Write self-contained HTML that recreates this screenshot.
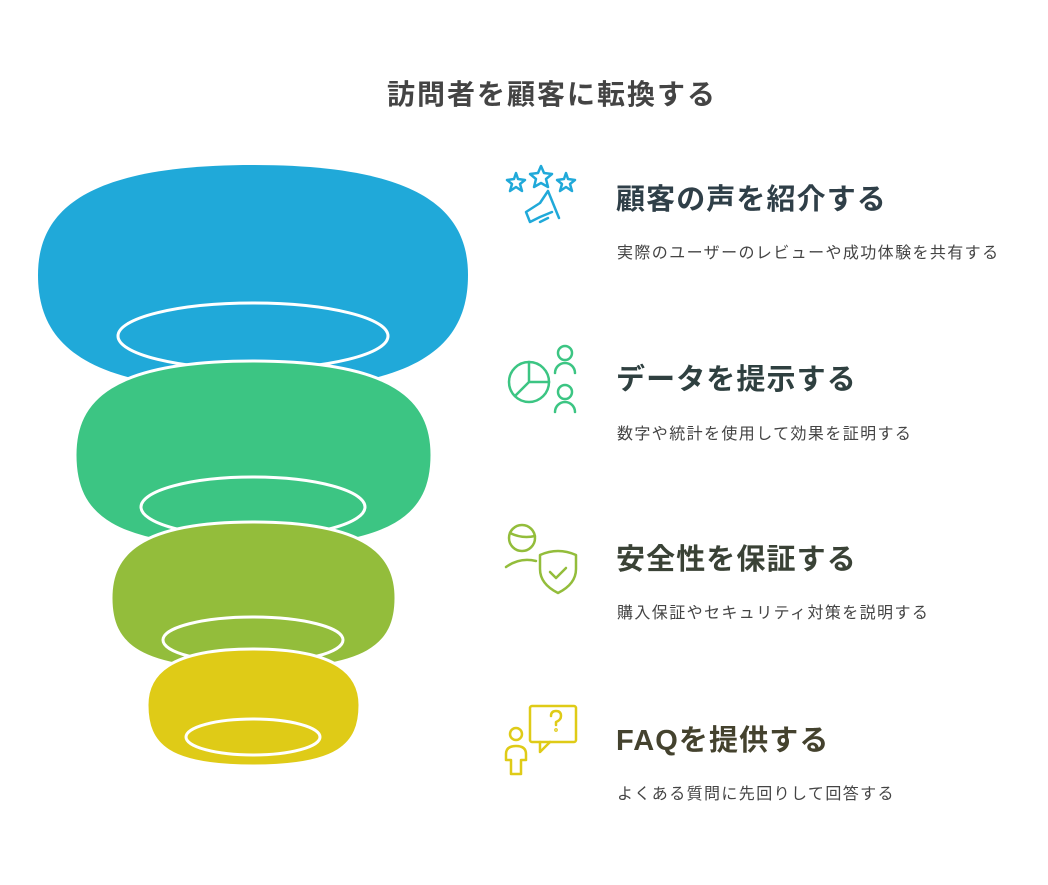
<!DOCTYPE html>
<html><head><meta charset="utf-8"><style>
body{margin:0;background:#fff;width:1048px;height:885px;overflow:hidden;position:relative;font-family:"Liberation Sans","Noto Sans CJK JP",sans-serif}
.t{position:absolute;white-space:nowrap}
.title{left:387px;top:73px;font-size:28px;font-weight:bold;color:#444;letter-spacing:2px}
.h{left:616px;font-size:29px;font-weight:bold;letter-spacing:1.1px}
.d{left:617px;font-size:16px;color:#444;letter-spacing:1.4px}
</style></head><body>
<svg width="1048" height="885" style="position:absolute;left:0;top:0">
<g stroke="#fff" stroke-width="3">
<path d="M253,165 C420,165 468,210 468,275 C468,345 420,390 253,390 C86,390 38,345 38,275 C38,210 86,165 253,165Z" fill="#20a9d9" stroke="none"/>
<ellipse cx="253" cy="336" rx="135" ry="33" fill="none"/>
<path d="M253,361 C395,361 432,400 432,455 C432,515 395,548 253,548 C111,548 75,515 75,455 C75,400 111,361 253,361Z" fill="#3cc583"/>
<ellipse cx="253" cy="507" rx="112" ry="30" fill="none"/>
<path d="M253,522 C368,522 396,555 396,598 C396,645 368,670 253,670 C138,670 111,645 111,598 C111,555 138,522 253,522Z" fill="#93bd3b"/>
<ellipse cx="253" cy="640" rx="90" ry="23" fill="none"/>
<path d="M253,649 C338,649 360,675 360,705 C360,745 338,766 253,766 C168,766 147,745 147,705 C147,675 168,649 253,649Z" fill="#dfcb17"/>
<ellipse cx="253" cy="737" rx="67" ry="18" fill="none"/>
</g>
<g fill="none" stroke-width="2.5" stroke-linecap="round" stroke-linejoin="round">
<g stroke="#20a9d9">
<path d="M541,166 l3,7 8,1 -6,5 2,8 -7,-4 -7,4 2,-8 -6,-5 8,-1z"/>
<path d="M516,173 l2,6 7,1 -5,4 2,7 -6,-4 -6,4 2,-7 -5,-4 7,-1z"/>
<path d="M566,173 l2,6 7,1 -5,4 2,7 -6,-4 -6,4 2,-7 -5,-4 7,-1z"/>
<path d="M548,191 L559,218 M548,191 L540,203 L526,212 L530,222 L540,217 L552,212 M540,222 L548,218"/>
</g>
<g stroke="#3cc583">
<circle cx="529" cy="382" r="20"/><path d="M529,362 V382 H549 M529,382 L515,396"/>
<circle cx="565" cy="353" r="7"/><path d="M555,373 a10,10 0 0 1 20,0"/>
<circle cx="565" cy="392" r="7"/><path d="M555,412 a10,10 0 0 1 20,0"/>
</g>
<g stroke="#93bd3b">
<circle cx="522" cy="538" r="13"/><path d="M510,533 q12,6 25,3 M506,567 q14,-10 30,-6"/>
<path d="M540,555 q18,-8 36,0 v14 q0,15 -18,24 q-18,-9 -18,-24z"/><path d="M550,572 l6,6 10,-10"/>
</g>
<g stroke="#dfcb17">
<rect x="530" y="706" width="46" height="36" rx="2"/><path d="M540,742 v10 l10,-10"/>
<path d="M551,716 q0,-5 5,-5 q5,0 5,5 q0,4 -5,6 v3"/><circle cx="556" cy="730" r="0.6"/>
<circle cx="516" cy="734" r="6"/><path d="M506,760 v-6 q0,-8 10,-8 q10,0 10,8 v6 h-5 v14 h-10 v-14z"/>
</g>
</g>
</svg>
<div class="t title">訪問者を顧客に転換する</div>
<div class="t h" style="top:176px;color:#2f3f48">顧客の声を紹介する</div>
<div class="t d" style="top:239px">実際のユーザーのレビューや成功体験を共有する</div>
<div class="t h" style="top:356px;color:#2f4040">データを提示する</div>
<div class="t d" style="top:420px">数字や統計を使用して効果を証明する</div>
<div class="t h" style="top:536px;color:#3a4236">安全性を保証する</div>
<div class="t d" style="top:599px">購入保証やセキュリティ対策を説明する</div>
<div class="t h" style="top:717px;color:#44422e">FAQを提供する</div>
<div class="t d" style="top:780px">よくある質問に先回りして回答する</div>
</body></html>
